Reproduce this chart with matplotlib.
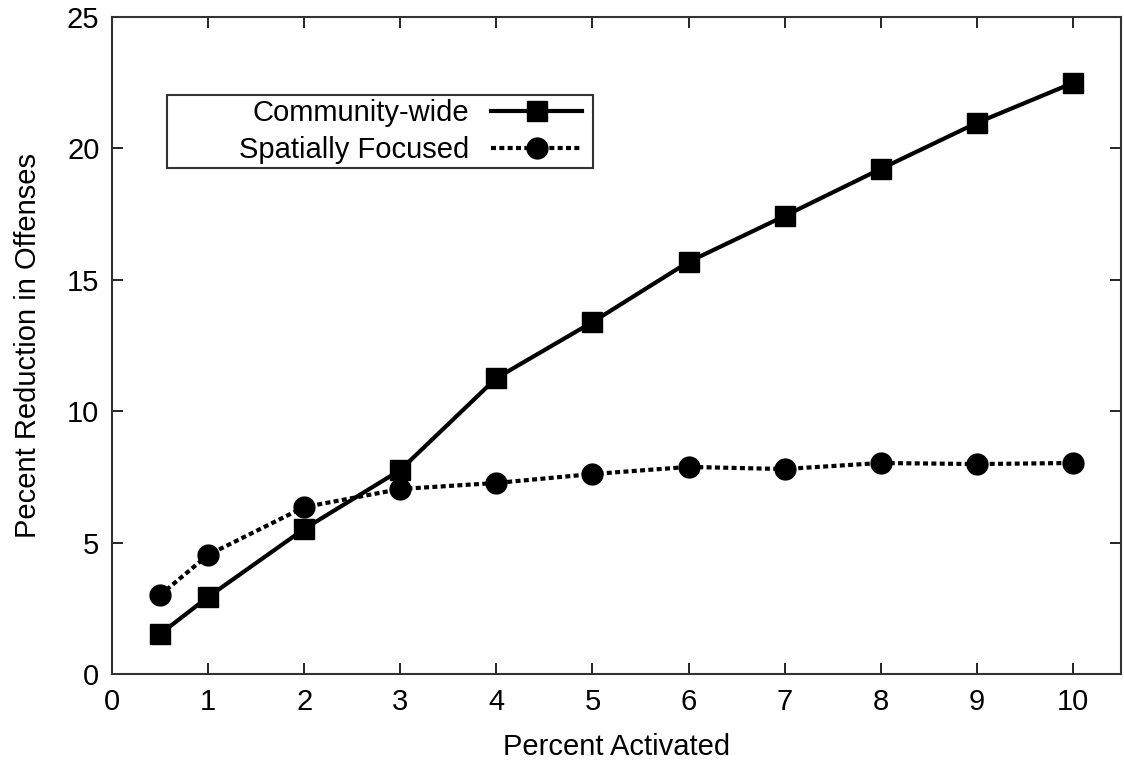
import matplotlib
matplotlib.use("Agg")
import matplotlib.pyplot as plt
from matplotlib.patches import Rectangle

plt.rcParams['font.family'] = ['Liberation Sans', 'DejaVu Sans']

percent_activated = [0.5, 1, 2, 3, 4, 5, 6, 7, 8, 9, 10]
community_wide = [1.52, 2.93, 5.52, 7.76, 11.26, 13.39, 15.68, 17.43, 19.22, 20.97, 22.49]
spatially_focused = [3.0, 4.53, 6.35, 7.04, 7.27, 7.61, 7.88, 7.80, 8.03, 7.99, 8.03]
x_ticks = [0, 1, 2, 3, 4, 5, 6, 7, 8, 9, 10]
y_ticks = [0, 5, 10, 15, 20, 25]

fig = plt.figure(figsize=(11.24, 7.69), dpi=100)
ax = fig.add_axes([0.0996, 0.1235, 0.8977, 0.8544])

ax.plot(percent_activated, community_wide, color='black', linestyle='-', linewidth=3,
        marker='s', markersize=15, label='Community-wide')
ax.plot(percent_activated, spatially_focused, color='black', linestyle=(0, (1.2, 0.8)), linewidth=3,
        marker='o', markersize=15, label='Spatially Focused')

ax.set_xlim(0, 10.5)
ax.set_ylim(0, 25)
ax.set_xticks(x_ticks)
ax.set_yticks(y_ticks)
ax.tick_params(direction='in', length=8, width=1.2, top=True, right=True,
               labelsize=21, colors='black', pad=9)
ax.tick_params(axis='x', pad=10)
for s in ax.spines.values():
    s.set_linewidth(1.5)
    s.set_color('#333333')

ax.set_xlabel('Percent Activated', fontsize=21, labelpad=12)
ax.set_ylabel('Pecent Reduction in Offenses', fontsize=21, labelpad=18)

# legend frame (fixed width, as in the original)
ax.add_patch(Rectangle((0.0545, 0.7702), 0.4222, 0.1111, transform=ax.transAxes,
                       fill=True, facecolor='white', edgecolor='#333333', linewidth=1.5, zorder=4))
leg = ax.legend(loc='center right', bbox_to_anchor=(0.4767 - 0.011, 0.8258), markerfirst=False,
                fontsize=21, frameon=False, handlelength=3.1, borderpad=0.0,
                labelspacing=0.3, handletextpad=0.75, borderaxespad=0)
leg.set_zorder(5)

fig.savefig('out.png', dpi=100)
